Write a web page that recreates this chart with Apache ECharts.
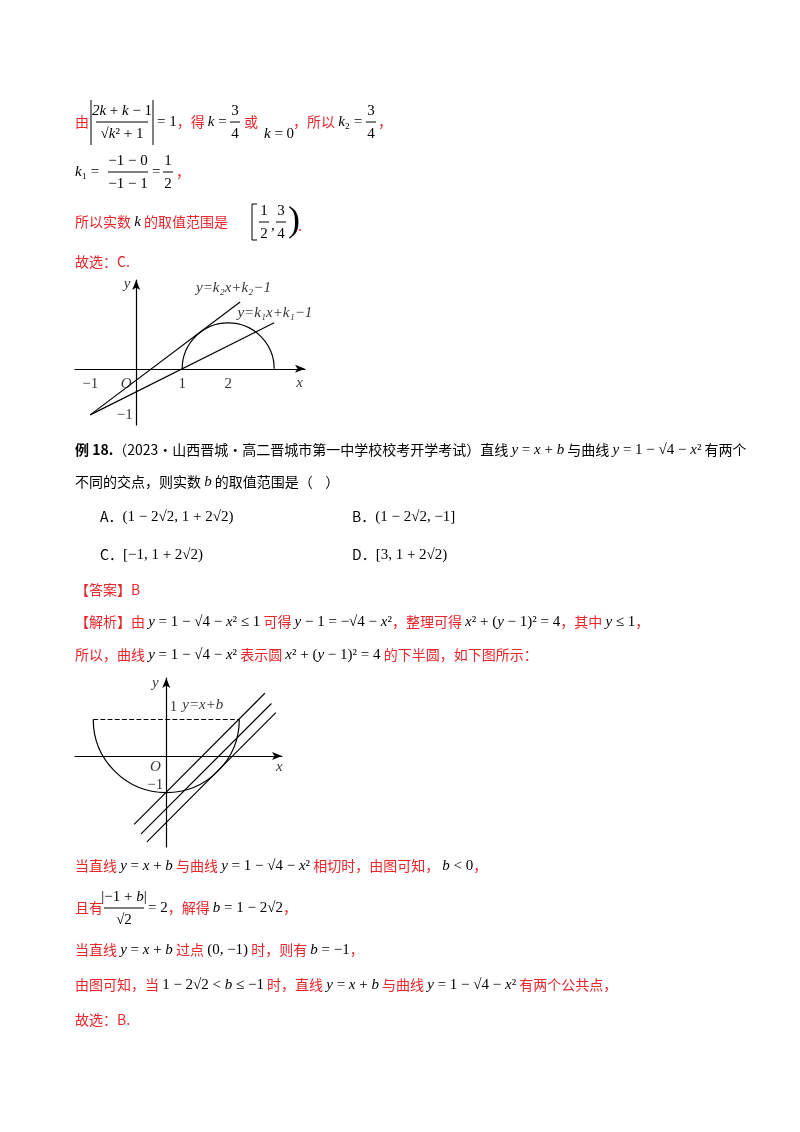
<!DOCTYPE html>
<html>
<head>
<meta charset="utf-8">
<script src="https://cdn.jsdelivr.net/npm/echarts@6/dist/echarts.min.js"></script>
<style>
html, body { margin: 0; padding: 0; background: #fff; }
#page { width: 800px; height: 1132px; }
</style>
</head>
<body>
<div id="page"></div>
<script>
// Figure 1: semicircle (x-2)^2 + y^2 = 1, y >= 0, two lines through (-1,-1)
var fig1Arcs = [[2, 0, 1, Math.PI, 2 * Math.PI]];
var fig1LineK2 = [[-1, -1], [2.26, 1.45]];
var fig1LineK1 = [[-1, -1], [3.0, 1.0]];
// [text, x, y, italic]
var fig1Labels = [
    ['−1', -1, -0.33, 0], ['O', -0.22, -0.33, 1], ['1', 1, -0.33, 0], ['2', 2, -0.33, 0],
    ['x', 3.55, -0.3, 1], ['y', -0.2, 1.85, 1], ['−1', -0.25, -1.0, 0]
];
var fig1LineNames = [['y=k₂x+k₂−1', 1.3, 1.75, 1], ['y=k₁x+k₁−1', 2.2, 1.22, 1]];

// Figure 2: lower semicircle x^2 + (y-1)^2 = 4, lines y = x + b
var fig2Arcs = [[0, 1, 2, 0, Math.PI]];
var fig2Dashed = [[-2, 1], [2, 1]];
var fig2Lines = [
    [[-0.88, -1.88], [2.70, 1.72]],
    [[-0.69, -2.14], [2.88, 1.44]],
    [[-0.53, -2.36], [3.00, 1.19]]
];
var fig2Labels = [
    ['O', -0.3, -0.3, 1], ['1', 0.2, 1.35, 0], ['−1', -0.3, -0.8, 0],
    ['x', 3.1, -0.3, 1], ['y', -0.3, 2.0, 1], ['y=x+b', 1.0, 1.4, 1]
];

var RED = '#e8262b';
var CJK = '"Noto Sans CJK SC", "Noto Sans", sans-serif';
var SERIF = '"Liberation Serif", "DejaVu Serif", serif';

function R(s) { return '{r|' + s + '}'; }
function M(s) { return '{m|' + s + '}'; }
function I(s) { return '{i|' + s + '}'; }
function B(s) { return '{b|' + s + '}'; }
function K(s) { return '{k|' + s + '}'; }

var rich = {
    r: { fontFamily: CJK, fontSize: 14, fill: RED, color: RED },
    k: { fontFamily: CJK, fontSize: 14, fill: '#000', color: '#000' },
    b: { fontFamily: CJK, fontSize: 14, fontWeight: 'bold', fill: '#000', color: '#000' },
    m: { fontFamily: SERIF, fontSize: 15, fill: '#000', color: '#000' },
    i: { fontFamily: SERIF, fontSize: 15, fontStyle: 'italic', fill: '#000', color: '#000' }
};

function txt(x, y, s) {
    return { type: 'text', x: x, y: y, style: { text: s, rich: rich, verticalAlign: 'middle' } };
}
function small(x, y, s, align) {
    return { type: 'text', x: x, y: y, style: { text: s, rich: rich, align: align || 'center', verticalAlign: 'middle' } };
}
function ln(x1, y1, x2, y2) {
    return { type: 'line', shape: { x1: x1, y1: y1, x2: x2, y2: y2 }, style: { stroke: '#000', lineWidth: 1 } };
}
function frac(cx, cy, num, den, w) {
    return [small(cx, cy - 11, num), ln(cx - w / 2, cy, cx + w / 2, cy), small(cx, cy + 12, den)];
}

var sqrtCurve = I('y') + M(' = 1 − √4 − ') + I('x') + M('²');

var graphics = [].concat(
    [txt(75, 122, R('由')), ln(91, 100, 91, 145), ln(153, 100, 153, 145)],
    frac(122, 122, I('2k') + M(' + ') + I('k') + M(' − 1'), M('√') + I('k') + M('² + 1'), 52),
    [txt(157, 122, M('= 1') + R('，得 ') + I('k') + M(' = '))],
    frac(235, 122, M('3'), M('4'), 10),
    [txt(244, 122, R('或')), txt(264, 134, I('k') + M(' = 0')),
     txt(293, 122, R('，所以 ') + I('k') + M('₂ = '))],
    frac(371, 122, M('3'), M('4'), 10),
    [txt(378, 122, R('，'))],
    [txt(75, 172, I('k') + M('₁ = '))],
    frac(128, 172, M('−1 − 0'), M('−1 − 1'), 40),
    [txt(152, 172, M('= '))],
    frac(168, 172, M('1'), M('2'), 10),
    [txt(176, 172, R('，'))],
    [txt(75, 222, R('所以实数 ') + I('k') + R(' 的取值范围是 '))],
    [ln(252, 204, 252, 240), ln(252, 204, 257, 204), ln(252, 240, 257, 240)],
    frac(264, 222, M('1'), M('2'), 10),
    [txt(271, 226, M(','))],
    frac(281, 222, M('3'), M('4'), 10),
    [{ type: 'text', x: 288, y: 222, style: { text: ')', font: '36px ' + SERIF, fill: '#000', verticalAlign: 'middle' } },
     txt(298, 226, R('.'))],
    [txt(75, 262, R('故选：C.'))],
    [txt(75, 450, B('例 18.') + K('（2023·山西晋城·高二晋城市第一中学校校考开学考试）直线 ') + I('y') + M(' = ') + I('x') + M(' + ') + I('b') + K(' 与曲线 ') + sqrtCurve + K(' 有两个')),
     txt(75, 482, K('不同的交点，则实数 ') + I('b') + K(' 的取值范围是（    ）')),
     txt(100, 517, K('A．') + M('(1 − 2√2, 1 + 2√2)')),
     txt(352, 517, K('B．') + M('(1 − 2√2, −1]')),
     txt(100, 555, K('C．') + M('[−1, 1 + 2√2)')),
     txt(352, 555, K('D．') + M('[3, 1 + 2√2)')),
     txt(75, 590, R('【答案】B')),
     txt(75, 622, R('【解析】由 ') + sqrtCurve + M(' ≤ 1') + R(' 可得 ') + I('y') + M(' − 1 = −√4 − ') + I('x') + M('²') + R('，整理可得 ') + I('x') + M('² + (') + I('y') + M(' − 1)² = 4') + R('，其中 ') + I('y') + M(' ≤ 1') + R('，')),
     txt(75, 655, R('所以，曲线 ') + sqrtCurve + R(' 表示圆 ') + I('x') + M('² + (') + I('y') + M(' − 1)² = 4') + R(' 的下半圆，如下图所示：')),
     txt(75, 866, R('当直线 ') + I('y') + M(' = ') + I('x') + M(' + ') + I('b') + R(' 与曲线 ') + sqrtCurve + R(' 相切时，由图可知， ') + I('b') + M(' < 0') + R('，'))],
    [txt(75, 908, R('且有 '))],
    frac(124, 908, M('|−1 + ') + I('b') + M('|'), M('√2'), 40),
    [txt(148, 908, M('= 2') + R('，解得 ') + I('b') + M(' = 1 − 2√2') + R('，')),
     txt(75, 950, R('当直线 ') + I('y') + M(' = ') + I('x') + M(' + ') + I('b') + R(' 过点 ') + M('(0, −1)') + R(' 时，则有 ') + I('b') + M(' = −1') + R('，')),
     txt(75, 985, R('由图可知，当 ') + M('1 − 2√2 < ') + I('b') + M(' ≤ −1') + R(' 时，直线 ') + I('y') + M(' = ') + I('x') + M(' + ') + I('b') + R(' 与曲线 ') + sqrtCurve + R(' 有两个公共点，')),
     txt(75, 1020, R('故选：B.'))]
);

function arcSeries(data, xi, yi) {
    return {
        type: 'custom', xAxisIndex: xi, yAxisIndex: yi, data: data, silent: true,
        renderItem: function (params, api) {
            var c = api.coord([api.value(0), api.value(1)]);
            var r = api.size([api.value(2), 0])[0];
            return { type: 'arc', shape: { cx: c[0], cy: c[1], r: r, startAngle: api.value(3), endAngle: api.value(4), clockwise: true },
                     style: { stroke: '#000', fill: 'none', lineWidth: 1.2 } };
        }
    };
}
function seg(data, xi, yi, dashed) {
    return { type: 'line', xAxisIndex: xi, yAxisIndex: yi, data: data, symbol: 'none', silent: true,
             lineStyle: { color: '#000', width: 1.2, type: dashed ? 'dashed' : 'solid' } };
}
function labels(list, xi, yi, align) {
    return { type: 'scatter', xAxisIndex: xi, yAxisIndex: yi, symbolSize: 0, silent: true,
             data: list.map(function (d) {
                 return { name: d[0], value: [d[1], d[2]], label: { fontStyle: d[3] ? 'italic' : 'normal' } };
             }),
             label: { show: true, position: 'inside', align: align, formatter: '{b}',
                      fontFamily: SERIF, fontSize: 15, color: '#000' } };
}
function axis(min, max, gi) {
    return { type: 'value', gridIndex: gi, min: min, max: max, axisLabel: { show: false }, axisTick: { show: false },
             splitLine: { show: false },
             axisLine: { onZero: true, symbol: ['none', 'arrow'], symbolSize: [6, 10], lineStyle: { color: '#000', width: 1.2 } } };
}

var chart = echarts.init(document.getElementById('page'));
chart.setOption({
    backgroundColor: '#fff',
    animation: false,
    grid: [
        { left: 75, width: 230, top: 280, height: 145 },
        { left: 75, width: 207, top: 678, height: 169 }
    ],
    xAxis: [axis(-1.33, 3.67, 0), axis(-2.5, 3.17, 1)],
    yAxis: [axis(-1.22, 1.93, 0), axis(-2.5, 2.14, 1)],
    graphic: graphics,
    series: [
        arcSeries(fig1Arcs, 0, 0),
        seg(fig1LineK2, 0, 0), seg(fig1LineK1, 0, 0),
        labels(fig1Labels, 0, 0, 'center'),
        labels(fig1LineNames, 0, 0, 'left'),
        arcSeries(fig2Arcs, 1, 1),
        seg(fig2Dashed, 1, 1, true),
        seg(fig2Lines[0], 1, 1), seg(fig2Lines[1], 1, 1), seg(fig2Lines[2], 1, 1),
        labels(fig2Labels, 1, 1, 'center')
    ]
});
</script>
</body>
</html>
